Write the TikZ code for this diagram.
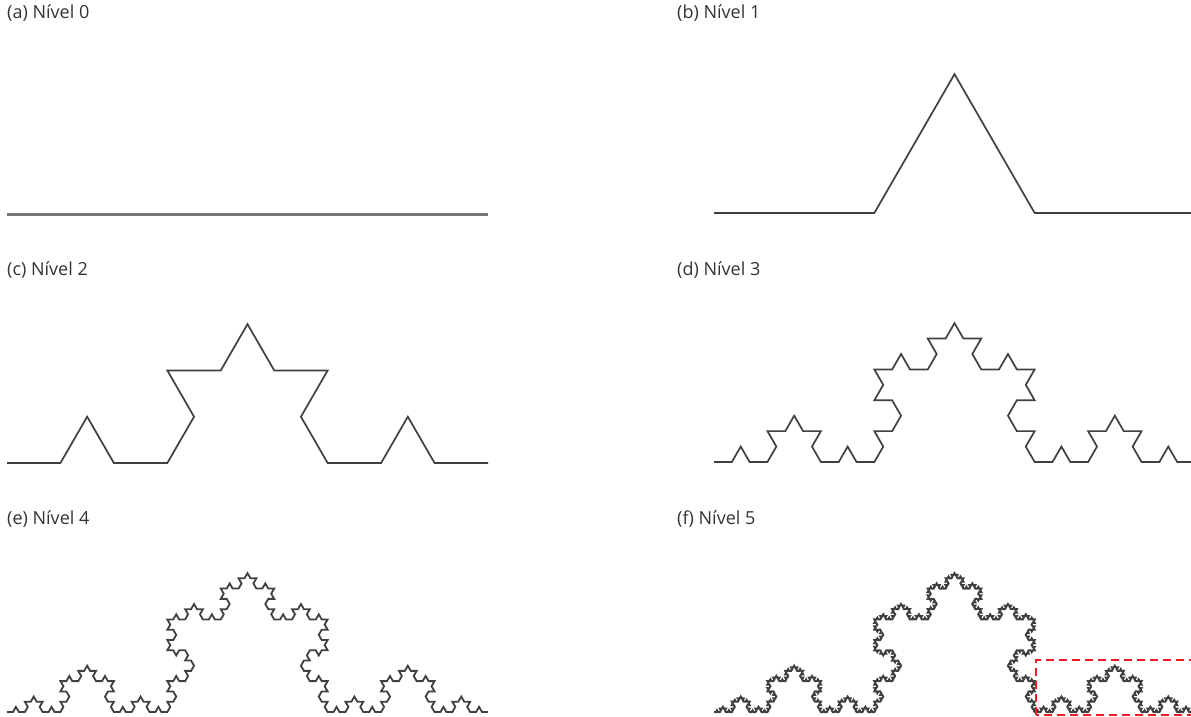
\documentclass[tikz,border=0pt]{standalone}
\usepackage{fontspec}
\setmainfont{Open Sans}
\usetikzlibrary{lindenmayersystems}
\pgfdeclarelindenmayersystem{Koch}{\rule{F -> F+F--F+F}}
\definecolor{curvegray}{HTML}{404040}
\definecolor{basegray}{HTML}{777777}
\definecolor{boxred}{HTML}{EE1C24}
\tikzset{
  lbl/.style={anchor=west, inner sep=0pt, font=\fontsize{18}{21}\selectfont, text=black!80},
  koch/.style={draw=curvegray, line width=1.7pt, line join=miter},
  zoombox/.style={draw=boxred, line width=1.5pt, dash pattern=on 8pt off 5pt}
}
\begin{document}
\begin{tikzpicture}[x=1pt,y=1pt]
\useasboundingbox (0,0) rectangle (1191,716);
% labels
\node[lbl] (la) at (7,703) {(a) Nível 0};
\node[lbl] (lb) at (677,703) {(b) Nível 1};
\node[lbl] (lc) at (7,446) {(c) Nível 2};
\node[lbl] (ld) at (677,446) {(d) Nível 3};
\node[lbl] (le) at (7,197) {(e) Nível 4};
\node[lbl] (lf) at (677,197) {(f) Nível 5};
% level 0
\draw[draw=basegray, line width=3pt] (7,501) -- (488,501);
% level 1
\begin{scope}[shift={(714,503)}]
\draw[koch, lindenmayer system={Koch, axiom=F, order=1, step=160.333pt, angle=60}] (0,0) lindenmayer system;
\end{scope}
% level 2
\begin{scope}[shift={(7,253)}]
\draw[koch, lindenmayer system={Koch, axiom=F, order=2, step=53.444pt, angle=60}] (0,0) lindenmayer system;
\end{scope}
% level 3
\begin{scope}[shift={(714,254)}]
\draw[koch, lindenmayer system={Koch, axiom=F, order=3, step=17.815pt, angle=60}] (0,0) lindenmayer system;
\end{scope}
% level 4
\begin{scope}[shift={(7,4)}]
\draw[koch, line width=1.8pt, lindenmayer system={Koch, axiom=F, order=4, step=5.938pt, angle=60}] (0,0) lindenmayer system;
\end{scope}
% level 5
\begin{scope}[shift={(714,4)}]
\draw[koch, line width=2pt, lindenmayer system={Koch, axiom=F, order=5, step=1.9794pt, angle=60}] (0,0) lindenmayer system;
\end{scope}
% zoom box
\draw[zoombox] (1036,1) rectangle (1210,56);
\end{tikzpicture}
\end{document}
